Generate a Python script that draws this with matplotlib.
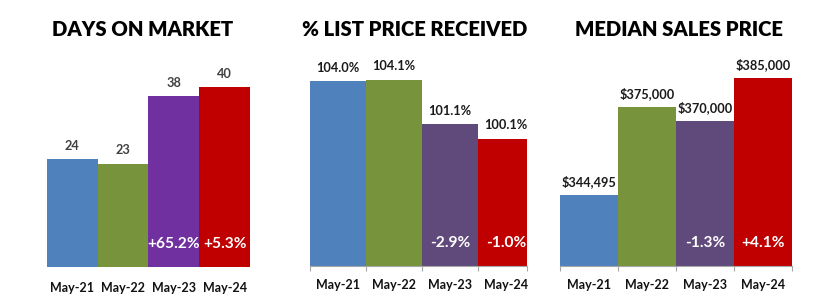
import matplotlib
matplotlib.use("Agg")
import matplotlib.pyplot as plt

plt.rcParams['font.family'] = ['Lato', 'DejaVu Sans']

categories = ["May-21", "May-22", "May-23", "May-24"]
days_on_market = [24, 23, 38, 40]
days_change = ["", "", "+65.2%", "+5.3%"]
list_price_pct = [104.0, 104.1, 101.1, 100.1]
list_price_change = ["", "", "-2.9%", "-1.0%"]
median_price = [344495, 375000, 370000, 385000]
median_change = ["", "", "-1.3%", "+4.1%"]

colors1 = ["#4F81BD", "#77933C", "#7030A0", "#C00000"]
colors23 = ["#4F81BD", "#77933C", "#604A7B", "#C00000"]

W, H = 826, 300
fig = plt.figure(figsize=(W / 100, H / 100), dpi=100)


def add_axes(x0, x1, ybase, ytop):
    return fig.add_axes([x0 / W, (H - ybase) / H, (x1 - x0) / W, (ybase - ytop) / H])


panels = [
    dict(x0=46.7, x1=250, ybase=267.3, ytop=60, ymin=0, scale=4.51, xmax=3.5,
         values=days_on_market, labels=[f"{v}" for v in days_on_market], changes=days_change,
         colors=colors1, axisline=False, title="DAYS ON MARKET", tx=142.5, pad=10.8, vc="#404040"),
    dict(x0=310, x1=527, ybase=266, ytop=60, ymin=91.5, scale=14.8, xmax=3.375,
         values=list_price_pct, labels=[f"{v:.1f}%" for v in list_price_pct], changes=list_price_change,
         colors=colors23, axisline=True, title="% LIST PRICE RECEIVED", tx=414.5, pad=9.2, vc="#1a1a1a"),
    dict(x0=560, x1=792, ybase=266, ytop=60, ymin=320000, scale=0.002896, xmax=3.5,
         values=median_price, labels=[f"${v:,}" for v in median_price], changes=median_change,
         colors=colors23, axisline=True, title="MEDIAN SALES PRICE", tx=678.5, pad=9.2, vc="#1a1a1a"),
]

for p in panels:
    ax = add_axes(p["x0"], p["x1"], p["ybase"], p["ytop"])
    xs = list(range(len(categories)))
    ax.bar(xs, p["values"], width=1.0, color=p["colors"], linewidth=0)
    height_px = p["ybase"] - p["ytop"]
    ax.set_ylim(p["ymin"], p["ymin"] + height_px / p["scale"])
    ax.set_xlim(-0.5, p["xmax"])
    for s in ["top", "right", "left"]:
        ax.spines[s].set_visible(False)
    ax.set_yticks([])
    ax.set_xticks(xs)
    ax.set_xticklabels(categories, fontsize=9.0, fontweight="bold", color="#111111")
    ax.tick_params(axis="x", which="major", length=0, pad=p["pad"])
    if p["axisline"]:
        ax.spines["bottom"].set_color("#A6A6A6")
        ax.spines["bottom"].set_linewidth(0.8)
        ax.set_xticks([x - 0.5 for x in xs] + [p["xmax"]], minor=True)
        ax.tick_params(axis="x", which="minor", length=3.6, color="#A6A6A6", width=0.8)
    else:
        ax.spines["bottom"].set_visible(False)
    for x, v, lab, ch in zip(xs, p["values"], p["labels"], p["changes"]):
        ax.annotate(lab, xy=(x, v), xytext=(0, 9.6), textcoords="offset points",
                    ha="center", va="center", fontsize=9.2, fontweight="bold", color=p["vc"],
                    annotation_clip=False)
        if ch:
            ax.annotate(ch, xy=(x, p["ymin"]), xytext=(0, 16.6), textcoords="offset points",
                        ha="center", va="center", fontsize=11.2, fontweight="bold", color="white")
    fig.text(p["tx"] / W, (H - 29.5) / H, p["title"], ha="center", va="center",
             fontsize=14.6, fontweight="heavy", color="#000000")

fig.savefig("out.png", dpi=100, facecolor="white")
